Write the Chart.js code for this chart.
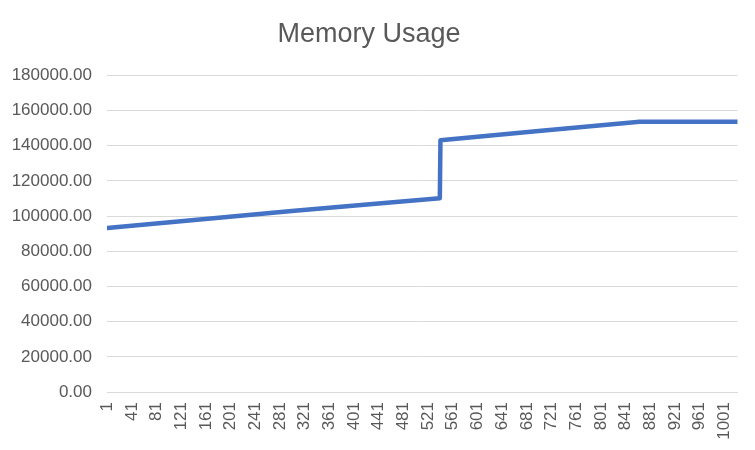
<!DOCTYPE html>
<html>
<head>
<meta charset="utf-8">
<title>Memory Usage</title>
<script src="https://cdn.jsdelivr.net/npm/chart.js@4/dist/chart.umd.min.js"></script>
<style>
  html, body { margin: 0; padding: 0; background: #fff; }
  #wrap { width: 755px; height: 450px; }
</style>
</head>
<body>
<div id="wrap"><canvas id="memory-chart" width="755" height="450"></canvas></div>
<script>
// sample index (category number) and memory value
const sampleIdx = [1, 151, 300, 450, 540, 541, 700, 864, 1022];
const memoryValues = [93300, 98100, 102900, 107500, 110100, 143100, 148400, 153700, 153700];
const xTickLabels = [1, 41, 81, 121, 161, 201, 241, 281, 321, 361, 401, 441, 481, 521,
  561, 601, 641, 681, 721, 761, 801, 841, 881, 921, 961, 1001];
const lastSample = 1022;

const textColor = "#595959";
const gridColor = "#d9d9d9";

const points = sampleIdx.map((x, i) => ({ x: x, y: memoryValues[i] }));

const ctx = document.getElementById("memory-chart").getContext("2d");

new Chart(ctx, {
  type: "line",
  data: {
    datasets: [{
      label: "Memory",
      data: points,
      borderColor: "#4472C4",
      borderWidth: 4.5,
      borderCapStyle: "round",
      borderJoinStyle: "round",
      pointRadius: 0,
      tension: 0,
      fill: false
    }]
  },
  options: {
    responsive: false,
    animation: false,
    layout: {
      padding: { left: 0, right: 17, top: 0, bottom: 0 }
    },
    plugins: {
      legend: { display: false },
      tooltip: { enabled: false },
      title: {
        display: true,
        text: "Memory Usage",
        color: textColor,
        font: { family: "Liberation Sans", size: 27, weight: "normal" },
        padding: { top: 18, bottom: 25 }
      }
    },
    scales: {
      x: {
        type: "linear",
        min: 0.5,
        max: lastSample + 0.5,
        grid: { display: false, drawTicks: false },
        border: { display: true, color: gridColor, width: 1 },
        afterBuildTicks: scale => {
          scale.ticks = xTickLabels.map(v => ({ value: v }));
        },
        afterFit: scale => { scale.height = 58; },
        ticks: {
          autoSkip: false,
          minRotation: 90,
          maxRotation: 90,
          padding: 10,
          color: textColor,
          font: { family: "Liberation Sans", size: 17 },
          callback: v => String(v)
        }
      },
      y: {
        min: 0,
        max: 180000,
        grid: { color: gridColor, drawTicks: false },
        border: { display: false },
        afterFit: scale => { scale.width = 107; },
        ticks: {
          stepSize: 20000,
          padding: 15,
          color: textColor,
          font: { family: "Liberation Sans", size: 17 },
          callback: v => Number(v).toFixed(2)
        }
      }
    }
  }
});
</script>
</body>
</html>
